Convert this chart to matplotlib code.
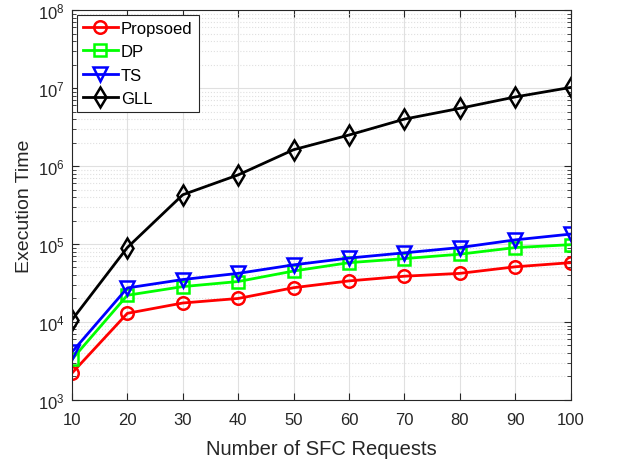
import matplotlib
matplotlib.use("Agg")
import matplotlib.pyplot as plt
from matplotlib.ticker import LogLocator, NullFormatter

plt.rcParams['font.family'] = ['Liberation Sans', 'DejaVu Sans']
plt.rcParams['mathtext.fontset'] = 'custom'
plt.rcParams['mathtext.rm'] = 'Liberation Sans'
plt.rcParams['mathtext.it'] = 'Liberation Sans:italic'

# number of SFC requests
requests = [10, 20, 30, 40, 50, 60, 70, 80, 90, 100]

# execution time per method
proposed = [2.2e3, 1.29e4, 1.75e4, 2.0e4, 2.75e4, 3.36e4, 3.86e4, 4.2e4, 5.1e4, 5.76e4]
dp = [3.3e3, 2.2e4, 2.84e4, 3.3e4, 4.5e4, 5.76e4, 6.5e4, 7.4e4, 9.0e4, 9.8e4]
ts = [4.1e3, 2.73e4, 3.5e4, 4.2e4, 5.4e4, 6.6e4, 7.7e4, 9.0e4, 1.13e5, 1.34e5]
gll = [1.06e4, 9.0e4, 4.28e5, 7.7e5, 1.62e6, 2.5e6, 4.0e6, 5.5e6, 7.7e6, 1.02e7]

fig = plt.figure(figsize=(6.42, 4.64), dpi=100)
ax = fig.add_axes([0.112, 0.136, 0.777, 0.840])

ax.plot(requests, proposed, color='#ff0000', marker='o', mfc='none', mec='#ff0000',
        ms=9, mew=1.8, lw=2, label='Propsoed')
ax.plot(requests, dp, color='#00ff00', marker='s', mfc='none', mec='#00ff00',
        ms=8, mew=1.8, lw=2, label='DP')
ax.plot(requests, ts, color='#0000ff', marker='v', mfc='none', mec='#0000ff',
        ms=10, mew=1.8, lw=2, label='TS')
ax.plot(requests, gll, color='black', marker='d', mfc='none', mec='black',
        ms=10, mew=1.8, lw=2, label='GLL')

ax.set_yscale('log')
ax.set_xlim(10, 100)
ax.set_ylim(1e3, 1e8)
ax.set_xticks(requests)
ax.yaxis.set_major_locator(LogLocator(base=10, numticks=10))
ax.yaxis.set_minor_locator(LogLocator(base=10, subs=range(2, 10), numticks=20))
ax.yaxis.set_minor_formatter(NullFormatter())

ax.grid(True, which='major', color='#e0e0e0', lw=0.8, ls='-')
ax.grid(True, which='minor', axis='y', color='#e0e0e0', lw=0.8, ls=':')
ax.set_axisbelow(True)

ax.tick_params(which='both', direction='in', top=True, right=True,
               labelsize=12, colors='#262626', labelcolor='#262626')
ax.tick_params(which='major', length=5)
ax.tick_params(which='minor', length=3)
ax.tick_params(axis='x', pad=9)
ax.tick_params(axis='y', pad=5)
for s in ax.spines.values():
    s.set_color('#262626')
    s.set_linewidth(0.8)

ax.set_xlabel('Number of SFC Requests', fontsize=14.5, color='#262626', labelpad=8)
ax.set_ylabel('Execution Time', fontsize=14, color='#262626', labelpad=4)

leg = ax.legend(loc='upper left', fontsize=12, fancybox=False, framealpha=1,
                edgecolor='#262626', borderaxespad=0.3, handlelength=2.1,
                handletextpad=0.2, labelspacing=0.5, borderpad=0.35)
leg.get_frame().set_linewidth(0.8)

fig.savefig('out.png', dpi=100)
